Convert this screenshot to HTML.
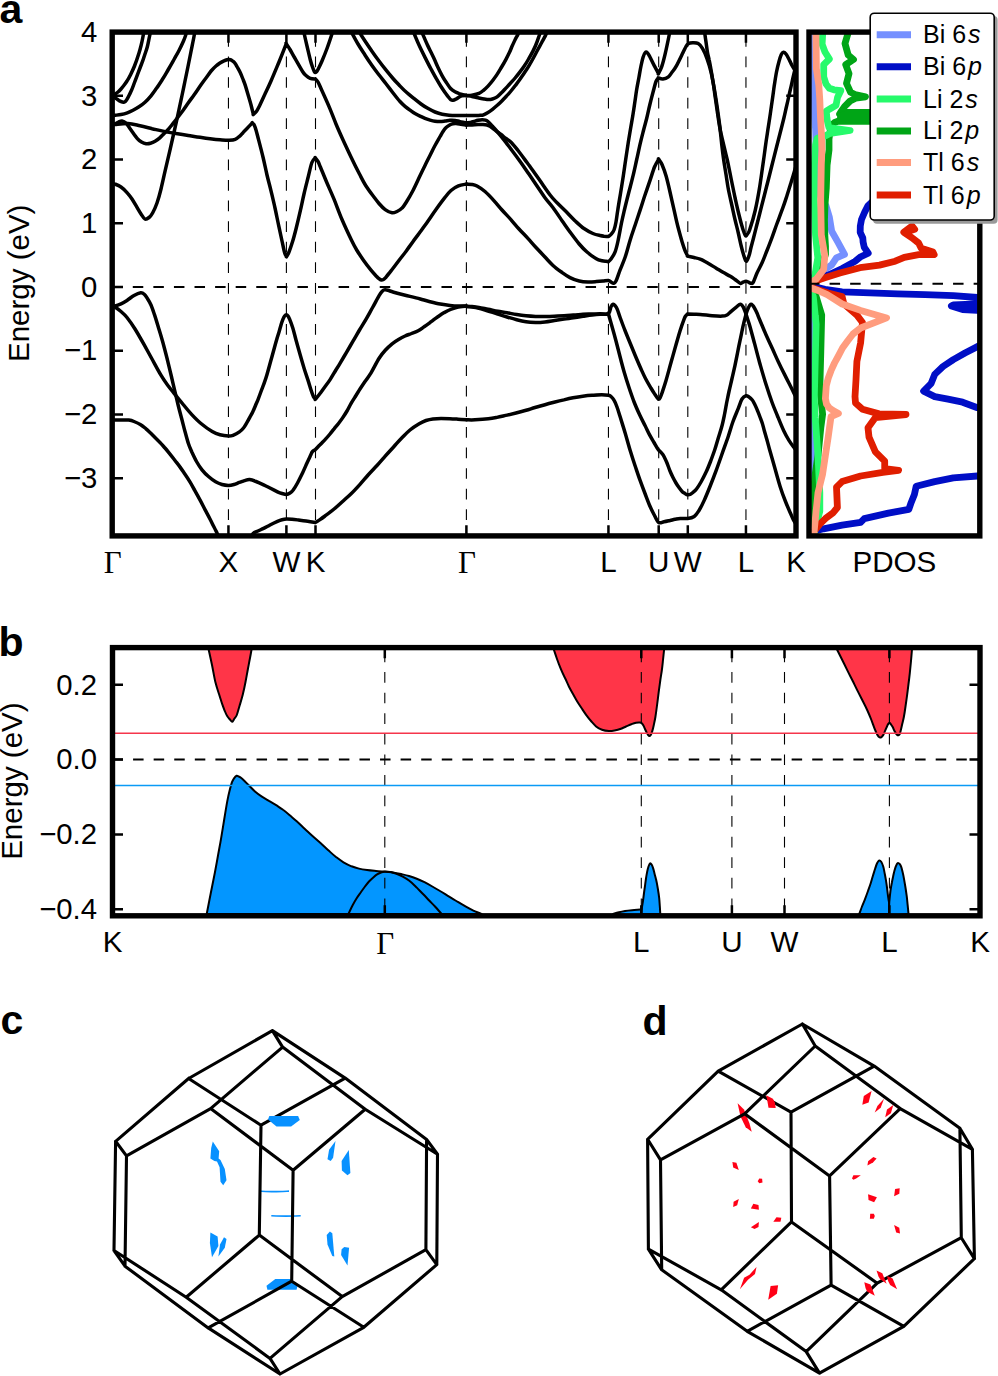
<!DOCTYPE html><html><head><meta charset="utf-8"><style>html,body{margin:0;padding:0;background:#fff;}svg{display:block;}</style></head><body>
<svg width="998" height="1376" viewBox="0 0 998 1376">
<rect width="998" height="1376" fill="#fff"/>
<defs><clipPath id="ca"><rect x="112.2" y="32.1" width="683.8" height="503.8"/></clipPath>
<clipPath id="cp"><rect x="809.0" y="32.1" width="170.8" height="503.8"/></clipPath>
<clipPath id="cb"><rect x="112.5" y="647.6" width="867.5" height="268.2"/></clipPath></defs>
<line x1="228.45" y1="32.1" x2="228.45" y2="535.9" stroke="#000" stroke-width="1.1" stroke-dasharray="10.7 9.88" stroke-dashoffset="16.7"/>
<line x1="286.40" y1="32.1" x2="286.40" y2="535.9" stroke="#000" stroke-width="1.1" stroke-dasharray="10.7 9.88" stroke-dashoffset="16.7"/>
<line x1="315.50" y1="32.1" x2="315.50" y2="535.9" stroke="#000" stroke-width="1.1" stroke-dasharray="10.7 9.88" stroke-dashoffset="16.7"/>
<line x1="466.40" y1="32.1" x2="466.40" y2="535.9" stroke="#000" stroke-width="1.1" stroke-dasharray="10.7 9.88" stroke-dashoffset="16.7"/>
<line x1="608.45" y1="32.1" x2="608.45" y2="535.9" stroke="#000" stroke-width="1.1" stroke-dasharray="10.7 9.88" stroke-dashoffset="16.7"/>
<line x1="658.70" y1="32.1" x2="658.70" y2="535.9" stroke="#000" stroke-width="1.1" stroke-dasharray="10.7 9.88" stroke-dashoffset="16.7"/>
<line x1="687.80" y1="32.1" x2="687.80" y2="535.9" stroke="#000" stroke-width="1.1" stroke-dasharray="10.7 9.88" stroke-dashoffset="16.7"/>
<line x1="745.95" y1="32.1" x2="745.95" y2="535.9" stroke="#000" stroke-width="1.1" stroke-dasharray="10.7 9.88" stroke-dashoffset="16.7"/>
<line x1="112.2" y1="287.00" x2="796.0" y2="287.00" stroke="#000" stroke-width="2" stroke-dasharray="10.5 10.08" stroke-dashoffset="0"/>
<g clip-path="url(#ca)" fill="none" stroke="#000" stroke-width="3.5" stroke-linejoin="round" stroke-linecap="round">
<path d="M112.2,95.5C112.7,95.2 114.2,94.6 115.2,94.0C116.2,93.4 117.0,92.8 118.0,92.0C119.0,91.2 120.0,90.1 121.0,89.0C122.0,87.9 123.0,86.6 124.0,85.3C125.0,84.0 126.0,82.6 127.0,81.0C128.0,79.4 128.8,78.3 130.0,75.8C131.2,73.3 133.0,69.8 134.5,66.0C136.0,62.2 137.9,56.5 139.0,53.0C140.1,49.5 140.5,47.8 141.2,45.0C141.9,42.2 142.7,38.2 143.1,36.0C143.5,33.8 143.5,32.7 143.6,32.0"/>
<path d="M112.2,95.5C112.7,95.9 114.1,97.0 115.2,97.8C116.3,98.6 117.7,99.8 119.0,100.6C120.3,101.3 122.2,102.2 123.3,102.3C124.4,102.4 124.8,101.9 125.5,101.3C126.2,100.7 126.6,99.8 127.3,98.7C128.0,97.6 128.8,96.0 129.5,94.5C130.2,93.0 131.0,91.7 131.8,89.7C132.6,87.7 133.6,84.9 134.5,82.5C135.4,80.1 136.3,77.7 137.2,75.3C138.1,72.9 139.1,70.4 140.0,68.0C140.9,65.6 141.9,63.2 142.7,60.9C143.5,58.6 144.2,56.3 145.0,54.0C145.8,51.7 146.6,49.5 147.2,47.3C147.8,45.0 148.2,42.6 148.7,40.5C149.1,38.4 149.6,36.1 149.9,34.7C150.2,33.3 150.2,32.5 150.3,32.0"/>
<path d="M112.2,115.5C112.7,115.5 113.7,115.5 115.2,115.3C116.7,115.1 119.0,114.9 121.0,114.5C123.0,114.1 125.3,113.5 127.3,112.8C129.3,112.1 131.1,111.3 133.0,110.3C134.9,109.3 137.0,108.1 139.0,106.8C141.0,105.5 143.0,104.0 145.0,102.2C147.0,100.4 149.1,98.1 151.0,95.8C152.9,93.5 154.5,91.1 156.5,88.3C158.5,85.5 160.8,81.9 162.8,78.8C164.8,75.7 166.4,72.7 168.3,69.5C170.2,66.3 172.2,62.7 174.0,59.5C175.8,56.3 177.4,53.6 179.0,50.5C180.6,47.4 182.4,43.5 183.5,41.0C184.6,38.5 185.1,37.0 185.6,35.5C186.1,34.0 186.2,32.6 186.3,32.0"/>
<path d="M112.2,183.6C112.7,183.7 113.6,183.5 115.1,184.1C116.6,184.7 119.0,185.6 121.0,187.0C123.0,188.4 125.2,190.6 127.0,192.6C128.8,194.6 130.3,196.4 132.0,199.0C133.7,201.6 135.8,205.4 137.3,207.9C138.8,210.4 139.7,212.2 141.0,214.0C142.3,215.8 143.6,218.4 144.9,219.0C146.2,219.6 147.7,218.5 149.0,217.5C150.3,216.5 151.3,215.4 152.6,213.0C153.9,210.6 155.6,207.0 157.0,203.0C158.4,199.0 159.7,194.3 161.0,189.0C162.3,183.7 163.5,178.0 165.0,171.4C166.5,164.8 168.8,155.4 170.2,149.2C171.6,143.0 172.6,138.5 173.6,134.0C174.6,129.5 175.4,126.1 176.3,122.0C177.2,117.9 178.1,113.9 179.0,109.5C179.9,105.1 181.0,100.2 182.0,95.5C183.0,90.8 184.0,85.8 185.0,81.0C186.0,76.2 187.0,71.4 188.0,66.5C189.0,61.6 190.0,56.5 191.0,51.5C192.0,46.5 193.4,39.8 194.0,36.5C194.6,33.2 194.7,32.8 194.8,32.0"/>
<path d="M112.2,124.0C112.7,124.0 114.0,124.2 115.1,123.9C116.1,123.6 117.3,122.5 118.5,122.0C119.7,121.5 120.7,120.7 122.0,120.9C123.3,121.1 124.7,121.8 126.2,123.3C127.7,124.8 129.2,127.4 131.0,129.9C132.8,132.4 135.3,136.3 137.1,138.3C138.8,140.3 140.0,141.1 141.5,142.0C143.0,142.9 144.6,143.5 146.1,143.7C147.6,143.9 149.0,143.7 150.5,143.3C152.0,142.9 153.6,142.2 155.1,141.3C156.6,140.4 158.0,139.4 159.5,138.1C161.0,136.8 162.6,135.0 164.1,133.5C165.6,132.0 167.3,130.4 168.6,129.0C169.9,127.5 170.5,126.7 172.0,124.8C173.5,122.9 175.9,119.9 177.7,117.5C179.5,115.1 181.2,112.9 183.0,110.5C184.8,108.1 186.4,105.6 188.2,103.0C190.0,100.4 191.8,98.1 194.0,95.0C196.2,91.9 199.2,87.3 201.2,84.5C203.2,81.7 204.3,80.2 206.0,78.0C207.7,75.8 209.4,73.0 211.1,71.0C212.8,69.0 214.5,67.3 216.0,66.0C217.5,64.7 218.7,63.9 220.0,63.0C221.3,62.1 222.8,61.3 224.0,60.8C225.2,60.3 226.2,60.0 227.0,59.8C227.8,59.6 228.3,59.5 229.1,59.6C229.8,59.7 230.8,59.9 231.5,60.2C232.2,60.6 232.8,61.1 233.5,61.7C234.2,62.3 234.9,63.1 235.5,64.0C236.1,64.9 236.4,65.6 237.2,67.0C238.0,68.4 239.3,70.6 240.2,72.5C241.1,74.4 241.9,76.4 242.7,78.5C243.5,80.6 244.4,82.6 245.2,85.1C246.0,87.6 246.9,90.7 247.7,93.5C248.5,96.3 249.5,99.7 250.2,102.1C250.9,104.5 251.3,106.0 251.8,108.0C252.3,110.0 253.1,113.3 253.4,114.4C253.4,114.4 252.9,114.8 253.4,114.4C253.9,114.0 255.2,113.1 256.2,111.8C257.2,110.5 257.7,109.5 259.2,106.5C260.7,103.5 263.0,98.2 265.0,94.0C267.0,89.8 268.7,86.3 271.0,81.0C273.3,75.7 276.4,68.2 279.0,62.0C281.6,55.8 285.1,46.8 286.3,43.7C286.3,43.7 285.7,42.7 286.3,43.7C286.9,44.7 288.6,47.2 290.0,49.5C291.4,51.8 292.4,53.9 294.5,57.5C296.6,61.1 300.5,68.2 302.4,71.2C304.3,74.2 304.7,74.3 306.0,75.5C307.3,76.7 308.6,77.7 310.2,78.3C311.8,78.9 314.6,78.9 315.5,79.0C315.5,79.0 315.1,78.5 315.5,79.0C315.9,79.5 316.9,80.0 318.0,82.0C319.1,84.0 320.0,86.4 322.0,90.8C324.0,95.2 327.5,102.9 329.8,108.4C332.1,113.9 333.9,118.9 336.0,124.0C338.1,129.1 340.1,133.5 342.6,139.0C345.1,144.5 348.2,151.1 351.0,157.0C353.8,162.9 357.1,169.5 359.6,174.3C362.1,179.1 363.7,182.4 366.0,186.0C368.3,189.6 371.0,193.1 373.2,196.0C375.4,198.9 377.0,201.2 379.0,203.5C381.0,205.8 383.0,208.0 385.2,209.6C387.4,211.2 390.0,212.5 392.0,212.8C394.0,213.1 395.3,212.3 397.0,211.5C398.7,210.7 400.5,209.7 402.2,207.9C403.9,206.2 405.2,203.9 407.0,201.0C408.8,198.1 410.8,194.7 413.0,190.5C415.2,186.3 418.0,180.0 420.0,175.8C422.0,171.6 423.3,168.9 425.0,165.5C426.7,162.1 428.4,158.5 430.1,155.2C431.8,151.9 433.3,148.6 435.0,145.5C436.7,142.4 438.8,138.8 440.1,136.5C441.4,134.2 442.0,133.0 443.0,131.5C444.0,130.0 444.9,128.6 446.1,127.5C447.3,126.4 449.0,125.3 450.1,124.7C451.2,124.1 452.0,123.9 453.0,123.7C454.0,123.5 454.8,123.4 456.1,123.5C457.4,123.6 459.3,124.0 461.0,124.3C462.7,124.5 465.5,124.9 466.4,125.0"/>
<path d="M112.2,124.5C112.7,124.5 112.5,124.7 115.1,124.5C117.7,124.3 123.8,123.4 128.0,123.6C132.2,123.8 136.0,124.9 140.0,125.7C144.0,126.5 148.1,127.7 152.1,128.7C156.1,129.6 160.1,130.6 164.1,131.4C168.1,132.2 172.0,132.8 176.0,133.5C180.0,134.2 184.2,134.9 188.2,135.5C192.2,136.1 196.3,136.8 200.0,137.3C203.7,137.9 206.8,138.4 210.1,138.8C213.4,139.2 216.8,139.6 220.0,139.8C223.2,140.0 226.6,140.3 229.1,140.2C231.6,140.1 233.5,140.0 235.2,139.3C236.9,138.7 238.2,137.5 239.5,136.3C240.8,135.2 241.9,133.7 243.2,132.4C244.4,131.1 245.8,129.7 247.0,128.5C248.2,127.3 249.3,126.2 250.2,125.2C251.1,124.2 252.0,123.2 252.3,122.8C252.3,122.8 252.0,122.4 252.3,122.8C252.6,123.2 253.6,123.8 254.2,125.0C254.8,126.2 255.4,127.9 256.0,130.0C256.6,132.1 256.8,132.9 258.0,137.5C259.2,142.1 261.6,151.2 263.1,157.5C264.6,163.8 265.7,169.4 267.0,175.0C268.3,180.6 269.7,185.3 271.0,190.8C272.3,196.3 273.7,202.1 275.0,208.0C276.3,213.9 277.6,220.6 278.8,226.1C280.0,231.6 281.0,236.5 282.0,241.0C283.0,245.5 283.9,250.4 284.7,253.0C285.5,255.6 286.3,255.9 286.6,256.5C286.6,256.5 286.2,257.2 286.6,256.5C287.0,255.8 288.0,254.4 289.0,252.0C290.0,249.6 291.3,245.6 292.5,241.8C293.7,238.0 294.7,234.2 296.0,229.0C297.3,223.8 299.1,216.2 300.4,210.4C301.7,204.6 302.7,199.6 304.0,194.0C305.3,188.4 306.9,182.2 308.2,177.0C309.5,171.8 310.7,165.7 311.9,162.5C313.1,159.3 314.7,158.6 315.3,157.8C315.3,157.8 314.9,157.2 315.3,157.8C315.8,158.4 317.1,160.0 318.0,161.5C318.9,163.0 318.9,163.4 320.4,167.0C321.9,170.6 324.7,177.6 327.0,183.0C329.3,188.4 331.6,193.3 334.1,199.4C336.6,205.5 339.1,212.7 342.0,219.5C344.9,226.3 348.9,234.8 351.4,240.0C353.9,245.2 354.9,247.0 357.0,250.5C359.1,254.0 361.7,257.7 364.0,261.0C366.3,264.3 368.9,267.6 371.0,270.2C373.1,272.8 375.3,275.0 376.7,276.5C378.1,278.0 378.7,278.4 379.5,279.0C380.3,279.6 380.9,279.9 381.6,280.0C382.3,280.1 382.9,279.8 383.5,279.5C384.1,279.2 384.3,279.1 385.1,278.2C385.9,277.3 387.3,275.4 388.5,274.0C389.7,272.6 390.3,271.8 392.1,269.5C393.9,267.2 396.8,263.4 399.1,260.3C401.4,257.2 403.8,254.3 406.1,251.2C408.4,248.0 411.0,244.3 413.1,241.4C415.2,238.5 416.6,236.8 419.0,233.5C421.4,230.2 424.9,225.5 427.7,221.5C430.5,217.5 433.1,213.5 436.0,209.5C438.9,205.5 442.3,200.9 444.8,197.7C447.3,194.5 448.7,192.5 451.0,190.5C453.3,188.5 455.8,186.9 458.4,185.8C461.0,184.7 465.1,184.4 466.4,184.1"/>
<path d="M303.8,32.0C304.3,34.3 305.9,41.4 307.0,46.0C308.1,50.6 309.3,56.0 310.2,59.5C311.1,63.0 311.8,65.0 312.5,67.0C313.2,69.0 313.7,70.4 314.2,71.3C314.7,72.2 315.0,72.5 315.4,72.6C315.8,72.6 316.3,72.3 316.8,71.6C317.3,70.9 317.6,70.3 318.5,68.5C319.4,66.7 320.6,64.3 322.0,61.0C323.4,57.7 325.2,53.3 327.0,48.5C328.8,43.7 331.7,34.8 332.6,32.0"/>
<path d="M351.4,32.0C352.5,34.0 355.7,40.1 358.0,44.0C360.3,47.9 362.8,51.6 365.1,55.2C367.4,58.8 369.7,62.2 372.0,65.5C374.3,68.8 376.8,72.0 379.1,75.0C381.4,78.0 383.7,80.8 386.0,83.8C388.3,86.8 390.8,90.0 393.1,93.0C395.4,96.0 398.0,99.3 400.0,101.5C402.0,103.7 403.3,104.9 405.0,106.3C406.7,107.7 408.3,108.9 410.0,110.1C411.7,111.3 413.3,112.5 415.0,113.5C416.7,114.5 418.3,115.3 420.0,116.1C421.7,116.9 423.3,117.7 425.0,118.4C426.7,119.1 428.4,119.6 430.1,120.1C431.8,120.6 433.3,121.0 435.0,121.2C436.7,121.5 438.4,121.6 440.1,121.6C441.8,121.6 443.4,121.3 445.0,121.1C446.6,120.9 448.3,120.4 450.0,120.3C451.7,120.2 453.3,120.2 455.0,120.4C456.7,120.6 458.1,121.2 460.0,121.6C461.9,122.0 465.3,122.8 466.4,123.0"/>
<path d="M359.3,32.0C360.2,33.5 362.9,37.8 365.0,41.0C367.1,44.2 369.8,48.1 372.1,51.4C374.4,54.7 376.7,57.9 379.0,61.0C381.3,64.1 383.8,67.3 386.1,70.2C388.4,73.1 390.7,75.8 393.0,78.5C395.3,81.2 397.8,83.7 400.1,86.1C402.4,88.5 404.6,90.7 407.0,92.8C409.4,94.9 411.9,96.8 414.2,98.7C416.5,100.6 418.7,102.3 421.0,104.0C423.3,105.7 425.9,107.3 428.2,108.6C430.5,109.9 432.7,111.1 435.0,112.0C437.3,112.9 439.9,113.7 442.2,114.2C444.5,114.7 446.7,115.0 449.0,115.2C451.3,115.4 453.3,115.5 456.2,115.6C459.1,115.6 464.7,115.5 466.4,115.5"/>
<path d="M413.5,32.0C414.4,34.2 417.0,40.6 419.0,45.0C421.0,49.4 423.4,54.1 425.4,58.1C427.4,62.1 429.1,65.5 431.0,69.0C432.9,72.5 434.9,76.2 436.6,79.1C438.3,82.0 439.6,84.3 441.0,86.5C442.4,88.7 443.8,90.8 445.0,92.5C446.2,94.2 447.1,95.3 448.0,96.5C448.9,97.7 449.8,99.0 450.6,99.6C451.4,100.2 452.1,100.4 453.0,100.3C453.9,100.2 455.2,99.5 456.2,99.0C457.2,98.5 458.1,97.7 459.0,97.2C459.9,96.7 460.7,96.1 461.9,95.8C463.1,95.5 465.6,95.5 466.4,95.5"/>
<path d="M421.8,32.0C422.7,34.0 425.0,39.6 427.0,44.0C429.0,48.4 432.0,54.2 433.8,58.1C435.6,62.0 436.6,64.5 438.0,67.5C439.4,70.5 440.9,73.4 442.2,75.8C443.5,78.2 444.6,79.9 446.0,82.0C447.4,84.1 449.1,86.9 450.6,88.5C452.1,90.1 453.6,91.0 455.0,91.8C456.4,92.6 457.9,93.1 459.1,93.6C460.3,94.0 460.8,94.2 462.0,94.5C463.2,94.8 465.7,95.3 466.4,95.5"/>
<path d="M466.4,95.5C467.3,95.4 469.9,95.5 472.0,95.1C474.1,94.7 477.1,94.1 479.0,93.3C480.9,92.5 482.0,91.5 483.5,90.3C485.0,89.1 486.5,87.7 488.0,86.1C489.5,84.5 491.0,82.8 492.5,80.8C494.0,78.8 495.6,76.7 497.1,74.4C498.6,72.1 500.1,69.5 501.6,67.0C503.1,64.5 504.8,61.6 506.1,59.1C507.4,56.6 508.4,54.6 509.5,52.3C510.6,50.0 511.4,47.6 512.4,45.5C513.4,43.4 514.3,41.3 515.2,39.5C516.1,37.7 517.2,36.0 517.8,34.7C518.4,33.5 518.6,32.5 518.8,32.0"/>
<path d="M466.4,95.5C467.3,95.7 470.1,96.1 472.0,96.5C473.9,96.9 476.0,97.4 478.0,97.8C480.0,98.2 482.2,98.7 484.0,99.0C485.8,99.3 487.5,99.6 489.0,99.6C490.5,99.6 491.6,99.2 493.0,98.8C494.4,98.3 495.7,97.9 497.1,96.9C498.5,95.9 500.0,94.3 501.5,92.8C503.0,91.3 504.6,89.5 506.1,87.9C507.6,86.3 509.0,84.9 510.5,83.2C512.0,81.5 513.6,79.8 515.1,78.0C516.6,76.2 518.1,74.4 519.6,72.4C521.1,70.5 522.6,68.5 524.1,66.3C525.6,64.1 527.1,61.6 528.6,59.0C530.1,56.4 531.8,53.5 533.1,50.9C534.4,48.3 535.4,46.1 536.4,43.5C537.4,40.9 538.7,36.9 539.4,35.0C540.1,33.1 540.3,32.5 540.5,32.0"/>
<path d="M466.4,115.5C467.3,115.5 470.2,115.6 472.0,115.6C473.8,115.6 475.6,115.5 477.0,115.5C478.4,115.5 479.4,115.4 480.5,115.3C481.6,115.2 482.2,115.3 483.5,114.8C484.8,114.3 486.5,113.4 488.0,112.5C489.5,111.6 491.0,110.5 492.5,109.3C494.0,108.1 495.5,106.8 497.0,105.5C498.5,104.2 500.1,102.7 501.6,101.2C503.1,99.7 504.6,98.1 506.1,96.5C507.6,94.9 509.1,93.3 510.6,91.5C512.1,89.7 513.6,87.8 515.1,85.8C516.6,83.8 518.1,81.9 519.6,79.8C521.1,77.7 522.6,75.5 524.1,73.3C525.6,71.0 527.1,68.8 528.6,66.3C530.1,63.8 531.6,61.2 533.1,58.5C534.6,55.8 536.2,52.7 537.6,50.0C539.0,47.3 540.4,45.0 541.7,42.5C543.1,40.0 544.9,36.8 545.7,35.0C546.6,33.2 546.6,32.5 546.8,32.0"/>
<path d="M466.4,123.0C467.0,122.9 468.7,122.8 470.0,122.6C471.3,122.3 472.7,121.9 474.0,121.5C475.3,121.1 476.6,120.6 478.0,120.3C479.4,120.0 480.9,119.7 482.2,119.7C483.4,119.7 484.4,119.8 485.5,120.2C486.6,120.6 487.4,121.1 488.5,122.0C489.6,122.9 490.4,124.0 492.0,125.8C493.6,127.5 495.7,129.8 498.0,132.5C500.3,135.2 503.4,139.1 505.7,142.1C508.0,145.1 509.5,147.2 512.0,150.5C514.5,153.8 517.7,158.1 520.5,162.0C523.3,165.9 526.1,170.1 528.9,174.1C531.6,178.1 534.3,182.1 537.0,186.0C539.7,189.9 542.4,194.2 545.0,197.8C547.6,201.4 550.0,203.6 552.9,207.5C555.8,211.4 559.4,216.9 562.2,221.0C565.1,225.1 567.2,228.2 570.0,232.0C572.8,235.8 576.4,240.7 579.2,244.0C582.0,247.3 584.1,249.5 587.0,252.0C589.9,254.5 593.8,257.3 596.3,258.8C598.8,260.3 600.4,260.4 602.0,260.8C603.6,261.2 604.9,261.2 606.0,261.3C607.1,261.4 608.1,261.6 608.5,261.6C608.5,261.6 608.1,262.0 608.5,261.6C608.9,261.2 609.9,260.6 611.0,259.0C612.1,257.4 613.8,255.2 615.0,252.2C616.2,249.2 616.9,246.1 618.0,241.0C619.1,235.9 620.7,226.7 621.8,221.5C622.9,216.3 623.3,214.7 624.4,210.0C625.5,205.3 627.1,199.0 628.5,193.5C629.9,188.0 631.4,182.8 632.7,177.2C634.1,171.6 635.3,165.8 636.6,160.0C637.9,154.2 639.3,147.3 640.5,142.3C641.7,137.3 642.6,133.9 643.6,130.0C644.6,126.1 645.5,123.1 646.6,118.8C647.7,114.5 648.8,108.8 650.0,104.0C651.2,99.2 652.6,93.8 653.6,90.0C654.6,86.2 655.2,83.5 656.0,81.5C656.8,79.5 658.1,78.5 658.5,77.9C658.5,77.9 657.8,77.7 658.5,77.9C659.2,78.1 661.2,79.2 662.9,79.0C664.5,78.8 666.9,77.9 668.4,76.8C669.9,75.7 670.7,74.0 672.0,72.3C673.3,70.6 674.3,69.6 676.1,66.4C677.9,63.2 681.1,56.4 682.7,53.1C684.4,49.8 685.1,48.1 686.0,46.5C686.9,44.9 687.2,44.2 688.3,43.6C689.4,43.0 691.1,42.8 692.7,42.8C694.4,42.8 696.6,42.6 698.2,43.6C699.9,44.6 701.1,46.2 702.6,48.7C704.1,51.2 705.6,54.8 707.0,58.7C708.4,62.6 709.9,67.5 711.0,72.0C712.1,76.5 713.0,81.7 713.8,86.0C714.6,90.3 715.1,93.5 715.8,98.0C716.5,102.5 717.3,108.0 718.0,113.0C718.7,118.0 719.4,122.7 720.0,128.0C720.6,133.3 721.2,139.7 721.8,145.0C722.4,150.3 723.0,155.0 723.7,160.0C724.4,165.0 725.3,170.0 726.1,175.0C726.9,180.0 727.5,185.0 728.5,190.0C729.5,195.0 730.7,200.1 731.8,205.0C732.9,209.9 733.9,214.8 735.0,219.5C736.1,224.2 737.3,228.6 738.3,233.0C739.3,237.4 740.3,242.4 741.2,246.0C742.1,249.6 742.7,252.0 743.5,254.5C744.3,257.0 745.2,260.1 745.9,260.9C746.6,261.7 746.9,260.5 747.5,259.5C748.1,258.5 748.7,256.7 749.3,254.7C749.9,252.7 750.4,249.9 751.0,247.5C751.6,245.1 752.1,243.4 753.0,240.0C753.9,236.6 755.1,231.7 756.3,227.0C757.5,222.3 758.8,217.1 760.1,212.0C761.4,206.9 762.7,201.9 764.0,196.7C765.3,191.5 766.7,186.1 768.0,181.0C769.3,175.9 770.3,171.8 771.7,166.3C773.1,160.8 774.9,153.5 776.3,148.0C777.7,142.5 778.7,138.5 780.0,133.5C781.3,128.5 782.8,122.5 783.9,118.0C785.0,113.5 785.6,110.2 786.5,106.5C787.4,102.8 788.2,99.2 789.0,95.5C789.8,91.8 790.7,88.2 791.5,84.5C792.3,80.8 793.2,76.8 794.0,73.5C794.8,70.2 795.7,66.4 796.0,65.0"/>
<path d="M466.4,125.0C467.3,125.0 470.1,125.0 472.0,124.9C473.9,124.8 476.2,124.7 478.0,124.6C479.8,124.5 481.5,124.4 483.0,124.5C484.5,124.6 485.8,124.7 487.0,125.0C488.2,125.3 489.0,125.7 490.0,126.3C491.0,126.9 492.0,127.8 493.0,128.5C494.0,129.2 494.7,129.8 496.0,130.8C497.3,131.8 499.3,133.2 501.0,134.5C502.7,135.8 504.3,137.2 506.0,138.5C507.7,139.8 509.3,140.5 511.3,142.5C513.3,144.5 515.4,147.2 518.0,150.5C520.6,153.8 524.1,158.6 527.0,162.5C529.9,166.4 532.6,170.3 535.3,174.1C538.0,177.8 540.5,181.4 543.0,185.0C545.5,188.6 548.4,192.8 550.5,195.5C552.6,198.2 553.0,198.6 555.4,201.1C557.8,203.6 561.6,207.1 565.0,210.5C568.4,213.9 572.6,218.5 575.8,221.5C579.0,224.5 581.1,226.5 584.0,228.5C586.9,230.5 590.2,232.3 592.9,233.5C595.6,234.7 598.1,235.1 600.0,235.5C601.9,235.9 602.6,236.0 604.0,236.2C605.4,236.3 607.7,236.4 608.5,236.4C608.5,236.4 608.0,236.7 608.5,236.4C608.9,236.1 610.1,235.6 611.0,234.5C611.9,233.4 613.2,232.1 614.0,230.0C614.8,227.9 615.4,225.3 616.0,222.0C616.6,218.7 617.0,214.8 617.8,210.0C618.5,205.2 619.6,199.0 620.5,193.5C621.4,188.0 622.2,182.9 623.1,177.2C624.0,171.5 624.8,165.3 625.7,159.5C626.6,153.7 627.5,147.4 628.3,142.3C629.1,137.2 629.8,133.3 630.5,129.0C631.2,124.7 632.0,120.5 632.7,116.2C633.4,111.9 634.1,107.4 634.7,103.0C635.4,98.6 635.9,94.3 636.6,90.0C637.3,85.7 638.3,81.0 639.0,77.0C639.7,73.0 640.3,69.2 641.0,66.0C641.7,62.8 642.3,59.8 643.0,57.5C643.7,55.2 644.5,53.2 645.3,52.5C646.0,51.8 646.8,52.3 647.5,53.0C648.2,53.7 648.6,54.5 649.7,56.5C650.8,58.5 652.6,62.5 654.1,65.3C655.6,68.1 657.8,72.1 658.5,73.5C658.5,73.5 658.0,74.7 658.5,73.5C659.0,72.3 660.7,69.6 661.8,66.4C662.9,63.2 663.8,59.8 665.1,54.2C666.4,48.6 668.9,36.5 669.6,33.0"/>
<path d="M704.6,32.0C704.8,33.7 705.5,38.6 706.0,42.0C706.5,45.4 707.0,49.5 707.5,52.5C708.0,55.5 708.6,56.9 709.2,60.1C709.9,63.4 710.7,67.8 711.4,72.0C712.1,76.2 712.8,80.5 713.5,85.0C714.2,89.5 714.8,94.3 715.5,99.0C716.2,103.7 716.8,108.2 717.5,113.0C718.2,117.8 719.0,123.1 719.8,127.6C720.6,132.1 721.6,136.2 722.5,140.0C723.4,143.8 724.2,147.2 725.0,150.5C725.8,153.8 726.5,156.4 727.3,160.0C728.1,163.6 728.9,167.8 729.8,172.0C730.6,176.2 731.5,180.8 732.4,185.0C733.3,189.2 734.0,193.0 735.0,197.5C736.0,202.0 737.2,207.5 738.3,212.0C739.4,216.5 740.6,221.3 741.5,224.5C742.4,227.7 742.9,229.3 743.5,231.0C744.1,232.7 744.6,234.0 745.0,234.8C745.4,235.6 745.5,236.1 745.9,236.0C746.3,235.9 746.7,235.2 747.3,234.2C747.9,233.2 748.4,233.8 749.7,229.8C751.0,225.9 753.6,217.5 755.2,210.5C756.8,203.5 758.2,195.8 759.5,188.0C760.8,180.2 762.0,170.7 763.0,164.0C764.0,157.3 764.5,153.2 765.2,148.0C765.9,142.8 766.6,138.0 767.4,133.0C768.1,128.0 768.9,123.2 769.7,118.0C770.5,112.8 771.2,107.3 772.0,102.0C772.8,96.7 773.5,91.0 774.2,86.0C775.0,81.0 775.7,76.1 776.5,72.0C777.3,67.9 778.2,64.4 779.0,61.5C779.8,58.6 780.6,56.0 781.3,54.5C782.0,53.0 782.6,52.3 783.4,52.2C784.2,52.1 785.0,52.7 786.0,54.0C787.0,55.3 788.4,58.2 789.4,60.1C790.4,62.0 790.9,63.5 792.0,65.5C793.1,67.5 795.3,70.9 796.0,72.0"/>
<path d="M466.4,184.1C467.3,184.2 470.2,184.1 472.0,184.4C473.8,184.7 474.8,184.8 477.0,186.0C479.2,187.2 482.1,189.0 485.0,191.5C487.9,194.0 491.3,197.7 494.1,200.8C496.9,203.9 499.2,206.8 502.0,210.0C504.8,213.2 508.3,216.6 511.1,219.8C513.9,223.0 516.2,225.9 519.0,229.0C521.8,232.1 525.3,235.5 528.1,238.6C530.9,241.7 533.1,244.4 536.0,247.5C538.9,250.6 542.4,254.3 545.2,257.3C548.0,260.3 550.2,262.9 553.0,265.5C555.8,268.1 559.4,270.6 562.2,272.6C565.0,274.6 567.2,276.2 570.0,277.6C572.8,279.0 576.2,280.3 579.2,281.0C582.2,281.7 585.1,281.9 588.0,282.0C590.9,282.1 593.8,281.8 596.3,281.6C598.8,281.4 601.0,281.2 603.0,281.0C605.0,280.8 607.1,280.3 608.5,280.5C609.8,280.7 610.1,281.5 611.0,282.0C611.9,282.5 612.8,283.5 613.6,283.3C614.4,283.1 614.9,283.2 616.0,281.0C617.1,278.8 618.5,274.2 620.0,270.2C621.5,266.2 623.5,262.0 625.2,257.0C626.9,252.0 628.5,245.4 630.1,240.2C631.7,234.9 633.3,230.5 635.0,225.5C636.7,220.5 638.4,215.2 640.1,210.1C641.8,205.0 643.3,200.0 645.0,195.0C646.7,190.0 648.5,184.8 650.1,180.1C651.7,175.4 653.1,170.5 654.5,167.0C655.9,163.5 658.0,160.5 658.7,159.2C658.7,159.2 658.2,158.3 658.7,159.2C659.2,160.1 660.8,161.7 662.0,164.5C663.2,167.3 664.8,171.5 666.1,176.1C667.4,180.7 668.7,186.3 670.0,192.0C671.3,197.7 672.8,204.3 674.1,210.1C675.4,215.9 676.6,221.7 678.0,227.0C679.4,232.3 681.0,238.3 682.2,242.2C683.4,246.1 684.1,248.2 685.0,250.5C685.9,252.8 687.3,255.2 687.8,256.2C687.8,256.2 686.8,256.0 687.8,256.2C688.8,256.4 691.9,257.0 694.0,257.5C696.1,258.0 697.9,258.2 700.2,259.2C702.5,260.1 705.3,261.7 708.0,263.2C710.7,264.7 713.7,266.7 716.2,268.2C718.7,269.7 720.6,270.9 723.0,272.3C725.4,273.7 728.3,275.1 730.3,276.3C732.3,277.5 733.3,278.3 735.0,279.5C736.7,280.7 739.0,282.9 740.3,283.3C741.6,283.8 742.1,282.6 743.0,282.2C743.9,281.8 745.0,281.2 746.0,281.2C746.9,281.2 747.6,281.8 748.5,282.2C749.4,282.6 750.5,283.3 751.3,283.3C752.1,283.3 752.2,284.0 753.2,282.3C754.2,280.6 755.5,276.3 757.0,273.0C758.5,269.7 760.5,266.2 762.2,262.5C763.9,258.8 765.4,254.6 767.0,250.5C768.6,246.4 770.1,242.6 771.8,238.1C773.5,233.6 775.1,228.6 777.0,223.5C778.9,218.4 781.2,212.4 782.9,207.7C784.6,203.0 785.6,199.8 787.0,195.5C788.4,191.2 789.7,186.9 791.2,182.0C792.7,177.1 795.2,168.7 796.0,166.0"/>
<path d="M112.2,306.4C112.7,306.3 113.6,306.4 115.1,306.0C116.6,305.6 119.0,304.7 121.0,303.8C123.0,302.9 124.8,301.8 127.0,300.4C129.2,299.0 131.7,296.8 134.0,295.5C136.3,294.2 138.9,293.0 140.7,292.8C142.4,292.6 143.4,293.5 144.5,294.5C145.6,295.5 146.4,296.9 147.5,298.7C148.6,300.4 149.9,302.4 151.0,305.0C152.1,307.6 153.1,310.6 154.3,314.1C155.5,317.6 156.9,322.3 158.0,326.0C159.1,329.7 160.0,332.4 161.1,336.2C162.2,339.9 163.4,344.2 164.5,348.5C165.6,352.8 166.8,357.2 167.9,361.8C169.0,366.4 170.2,371.2 171.3,376.0C172.4,380.8 173.6,385.9 174.7,390.7C175.8,395.4 176.9,399.9 178.0,404.5C179.1,409.1 180.3,413.5 181.5,418.0C182.7,422.5 183.8,427.2 185.0,431.5C186.2,435.8 187.3,440.1 188.4,443.5C189.5,446.9 190.5,449.0 191.8,452.0C193.2,455.0 194.8,458.5 196.5,461.5C198.2,464.5 200.0,467.3 202.0,469.8C204.0,472.3 206.2,474.5 208.5,476.5C210.8,478.5 213.3,480.5 215.6,481.8C217.8,483.1 219.9,483.9 222.0,484.5C224.1,485.1 226.4,485.4 228.4,485.4C230.4,485.4 232.2,485.0 234.0,484.5C235.8,484.0 237.7,483.0 239.4,482.4C241.2,481.8 242.8,481.1 244.5,480.6C246.2,480.1 247.7,479.5 249.6,479.6C251.5,479.8 253.7,480.6 256.0,481.5C258.3,482.4 261.2,483.7 263.6,484.8C266.0,485.9 268.2,487.1 270.5,488.3C272.8,489.5 275.6,490.9 277.5,491.8C279.4,492.7 280.5,493.1 282.0,493.5C283.5,493.9 285.1,494.5 286.4,494.4C287.7,494.3 288.9,493.7 290.0,493.0C291.1,492.3 291.9,491.7 293.2,490.0C294.4,488.3 296.1,485.6 297.5,483.0C298.9,480.4 300.3,477.6 301.9,474.3C303.5,471.0 305.6,466.1 307.0,463.0C308.4,459.9 309.6,457.4 310.5,455.5C311.4,453.6 311.6,452.7 312.4,451.7C313.2,450.7 314.9,450.0 315.4,449.6C315.4,449.6 314.6,450.4 315.4,449.6C316.2,448.8 318.3,446.4 320.0,444.7C321.7,442.9 323.8,440.9 325.5,439.1C327.2,437.3 328.6,435.7 330.0,434.0C331.4,432.3 332.7,430.6 334.1,428.9C335.5,427.1 337.1,425.3 338.5,423.5C339.9,421.7 341.2,420.0 342.6,417.9C344.0,415.8 345.6,413.4 347.0,411.0C348.4,408.6 349.6,406.0 351.1,403.4C352.6,400.8 354.5,397.9 356.0,395.5C357.5,393.1 358.5,391.3 360.0,389.0C361.5,386.7 363.3,384.0 365.0,381.5C366.7,379.0 367.8,378.1 370.2,374.2C372.6,370.3 376.6,362.2 379.1,358.2C381.7,354.2 383.3,352.4 385.5,350.0C387.7,347.6 389.9,345.6 392.1,343.8C394.3,342.1 396.3,340.8 398.5,339.5C400.7,338.2 402.9,337.0 405.1,336.0C407.3,335.0 409.3,334.4 411.5,333.5C413.7,332.6 416.0,332.0 418.2,330.8C420.4,329.6 422.3,328.0 424.5,326.5C426.7,325.0 429.0,323.3 431.2,321.7C433.4,320.1 435.3,318.5 437.5,317.0C439.7,315.5 442.0,313.9 444.2,312.6C446.4,311.4 448.3,310.4 450.5,309.5C452.7,308.6 454.6,308.0 457.2,307.4C459.8,306.8 464.9,306.3 466.4,306.1"/>
<path d="M112.2,306.8C112.7,306.9 113.6,306.5 115.1,307.3C116.6,308.1 119.0,309.8 121.0,311.5C123.0,313.2 124.7,314.6 127.0,317.5C129.3,320.4 132.2,324.5 135.0,329.0C137.8,333.5 141.3,339.7 144.1,344.7C146.9,349.7 149.2,353.9 152.0,359.0C154.8,364.1 158.5,371.1 161.1,375.4C163.7,379.7 165.2,381.9 167.5,385.0C169.8,388.1 172.3,391.1 174.7,394.1C177.1,397.1 179.2,399.6 182.0,403.0C184.8,406.4 188.6,411.2 191.8,414.6C195.0,418.0 197.6,420.7 201.0,423.5C204.4,426.3 209.0,429.7 212.2,431.6C215.4,433.5 217.3,434.1 220.0,434.8C222.7,435.5 226.2,435.9 228.4,436.0C230.6,436.1 231.2,436.0 233.0,435.3C234.8,434.6 237.7,433.1 239.4,431.9C241.2,430.7 242.2,429.6 243.5,428.0C244.8,426.4 245.9,424.2 247.0,422.4C248.1,420.6 249.1,418.7 250.0,417.0C250.9,415.3 251.8,413.9 252.7,412.0C253.6,410.1 254.6,407.7 255.5,405.5C256.4,403.3 257.4,401.1 258.3,398.8C259.2,396.5 260.1,394.0 261.0,391.5C261.9,389.0 263.0,386.5 264.0,383.7C265.0,380.9 266.1,377.6 267.0,374.5C267.9,371.4 268.9,367.8 269.7,364.8C270.5,361.8 271.2,359.3 272.0,356.5C272.8,353.7 273.6,350.8 274.4,347.8C275.2,344.8 276.2,341.2 277.0,338.5C277.8,335.8 278.4,333.9 279.1,331.7C279.8,329.4 280.4,327.1 281.0,325.0C281.6,322.9 282.3,320.9 282.9,319.4C283.5,317.9 284.0,316.8 284.6,316.0C285.2,315.2 285.8,314.8 286.4,314.8C287.0,314.8 287.5,315.3 288.0,316.0C288.5,316.7 288.8,317.2 289.6,319.2C290.4,321.2 291.7,324.5 292.8,328.0C293.9,331.5 294.8,335.6 296.0,340.0C297.2,344.4 298.7,349.7 300.0,354.3C301.3,358.9 302.7,363.6 304.0,367.9C305.3,372.2 306.7,376.2 307.9,379.9C309.1,383.6 310.2,387.5 311.1,390.3C312.0,393.1 312.8,395.2 313.5,396.7C314.2,398.2 315.2,398.7 315.5,399.1C315.5,399.1 314.8,400.0 315.5,399.1C316.2,398.2 318.5,395.5 320.0,393.5C321.5,391.5 322.9,389.5 324.6,387.2C326.3,384.9 328.4,382.2 330.1,379.6C331.8,377.0 333.4,374.2 335.0,371.5C336.6,368.8 338.1,366.6 340.0,363.4C341.9,360.2 344.3,356.0 346.5,352.3C348.7,348.6 350.8,344.9 353.0,341.2C355.2,337.5 357.3,333.7 359.5,330.0C361.7,326.3 363.9,322.9 366.1,319.1C368.3,315.4 370.4,311.4 372.6,307.5C374.8,303.6 377.5,298.3 379.1,295.6C380.7,292.9 381.1,292.4 382.0,291.5C382.9,290.6 383.3,290.1 384.3,289.9C385.3,289.7 386.6,289.9 388.0,290.3C389.4,290.7 390.9,291.4 393.0,292.0C395.1,292.6 397.5,293.3 400.3,294.0C403.1,294.7 406.7,295.6 410.0,296.4C413.3,297.2 417.0,298.1 420.3,299.0C423.6,299.9 426.7,300.9 430.0,301.7C433.3,302.5 437.0,303.4 440.3,304.0C443.6,304.6 447.0,305.1 450.0,305.4C453.0,305.7 455.7,305.9 458.4,306.0C461.1,306.1 465.1,306.1 466.4,306.1"/>
<path d="M112.2,420.1C112.7,420.1 113.5,420.1 115.1,420.1C116.7,420.1 119.7,420.0 122.0,420.0C124.3,420.0 126.7,419.9 128.7,420.1C130.7,420.4 132.0,420.7 134.0,421.5C136.0,422.3 138.7,423.5 140.7,424.7C142.7,425.9 144.4,427.5 146.0,428.8C147.6,430.1 148.5,431.1 150.0,432.5C151.5,433.9 153.3,435.8 155.0,437.5C156.7,439.2 158.3,440.8 160.0,442.5C161.7,444.2 163.3,446.1 165.0,448.0C166.7,449.9 168.3,452.0 170.0,454.1C171.7,456.2 173.3,458.3 175.0,460.5C176.7,462.7 178.4,464.8 180.1,467.1C181.8,469.4 183.3,471.8 185.0,474.3C186.7,476.8 188.4,479.4 190.1,482.1C191.8,484.9 193.3,487.8 195.0,490.8C196.7,493.8 198.4,497.1 200.1,500.2C201.8,503.3 203.3,506.4 205.0,509.6C206.7,512.8 208.6,516.3 210.1,519.2C211.6,522.1 212.8,524.7 214.0,527.0C215.2,529.3 216.2,531.4 217.1,533.2C218.0,535.0 219.1,537.2 219.5,538.0"/>
<path d="M250.0,539.0C250.5,538.1 251.8,534.9 253.1,533.6C254.4,532.3 256.2,531.9 258.0,531.0C259.8,530.1 261.6,529.4 263.6,528.4C265.6,527.4 267.7,526.2 270.0,525.0C272.3,523.8 275.5,522.3 277.5,521.4C279.5,520.5 280.5,520.1 282.0,519.7C283.5,519.3 284.7,519.0 286.4,518.9C288.1,518.8 290.0,519.0 292.0,519.2C294.0,519.4 296.2,519.7 298.5,520.0C300.8,520.3 303.2,520.6 306.0,521.0C308.8,521.4 313.9,522.2 315.5,522.4C315.5,522.4 314.8,522.9 315.5,522.4C316.2,521.9 318.4,520.7 320.0,519.6C321.6,518.5 322.6,517.8 325.0,516.0C327.4,514.2 331.3,511.3 334.1,509.0C336.9,506.7 339.2,504.6 342.0,502.0C344.8,499.4 348.1,496.6 351.1,493.7C354.1,490.8 357.2,487.4 360.0,484.3C362.8,481.2 365.3,478.1 368.1,475.0C370.9,471.9 374.1,468.6 377.0,465.5C379.9,462.4 382.4,459.4 385.2,456.2C388.0,453.0 391.2,449.6 394.0,446.5C396.8,443.4 399.5,440.2 402.2,437.5C404.9,434.8 407.2,432.3 410.0,430.0C412.8,427.7 416.5,425.4 419.2,423.8C421.9,422.2 423.7,421.3 426.0,420.5C428.3,419.7 430.4,419.2 432.9,418.9C435.4,418.6 438.2,418.5 441.0,418.5C443.8,418.5 447.1,418.6 449.9,418.7C452.7,418.8 455.2,419.0 458.0,419.2C460.8,419.4 465.0,419.7 466.4,419.8"/>
<path d="M466.4,306.4C467.3,306.4 469.9,306.4 472.0,306.6C474.1,306.8 476.2,307.0 478.9,307.4C481.6,307.8 484.9,308.6 488.0,309.2C491.1,309.8 494.6,310.6 497.8,311.2C501.0,311.8 503.9,312.1 507.0,312.7C510.1,313.3 513.5,314.1 516.7,314.6C519.9,315.1 522.9,315.5 526.0,315.8C529.1,316.1 532.4,316.3 535.6,316.4C538.8,316.5 541.9,316.6 545.0,316.6C548.1,316.6 551.2,316.5 554.4,316.3C557.6,316.1 560.9,315.9 564.0,315.7C567.1,315.5 570.1,315.4 573.3,315.1C576.5,314.9 579.9,314.4 583.0,314.2C586.1,314.0 589.4,314.1 592.2,314.0C595.0,313.9 597.3,313.9 600.0,313.8C602.7,313.7 606.6,314.8 608.5,313.6C610.3,312.4 610.2,308.4 611.0,306.8C611.8,305.2 612.5,304.5 613.2,304.3C613.9,304.1 614.6,305.0 615.3,305.8C616.0,306.6 616.5,307.3 617.3,309.3C618.1,311.3 619.0,314.5 620.3,318.0C621.6,321.5 623.3,326.2 625.0,330.5C626.7,334.8 628.8,339.9 630.5,344.0C632.2,348.1 633.3,350.9 635.0,355.0C636.7,359.1 639.0,364.4 640.7,368.3C642.5,372.2 643.8,375.2 645.5,378.5C647.2,381.8 649.3,385.3 650.9,388.0C652.5,390.7 653.9,392.8 655.0,394.5C656.1,396.2 656.9,397.2 657.5,398.0C658.1,398.8 658.3,399.2 658.7,399.2C659.1,399.2 659.5,399.0 660.0,398.0C660.5,397.0 661.0,396.0 662.0,393.0C663.0,390.0 664.6,385.3 666.1,380.2C667.6,375.1 669.3,368.5 671.0,362.5C672.7,356.5 674.7,349.4 676.2,344.1C677.7,338.9 678.7,335.2 680.0,331.0C681.3,326.8 683.2,321.4 684.2,318.8C685.2,316.2 685.4,316.3 686.0,315.5C686.6,314.7 687.5,314.3 687.8,314.1C687.8,314.1 686.8,314.1 687.8,314.1C688.8,314.1 691.9,314.2 694.0,314.3C696.1,314.4 697.2,314.3 700.2,314.5C703.2,314.7 708.5,315.4 712.2,315.7C715.9,316.0 719.7,316.2 722.2,316.1C724.7,316.0 725.6,315.7 727.0,315.0C728.4,314.3 728.8,313.4 730.3,312.1C731.8,310.8 734.6,308.4 736.3,307.1C738.0,305.8 739.1,304.2 740.3,304.2C741.5,304.2 742.4,305.5 743.3,307.1C744.2,308.8 745.2,312.0 746.0,314.1C746.7,316.2 747.2,317.8 747.8,319.8C748.4,321.8 748.6,321.8 749.8,325.9C751.0,330.0 753.1,338.2 754.8,344.4C756.4,350.6 757.9,356.4 759.7,363.0C761.6,369.6 763.8,377.4 765.9,384.0C768.0,390.6 770.2,397.2 772.1,402.5C774.0,407.8 775.6,411.3 777.5,416.0C779.4,420.7 781.7,426.5 783.6,430.5C785.5,434.5 787.1,437.4 788.8,440.1C790.5,442.9 792.4,445.4 793.6,447.0C794.8,448.6 795.6,449.5 796.0,450.0"/>
<path d="M466.4,306.4C467.3,306.5 469.9,306.7 472.0,307.0C474.1,307.3 476.2,307.6 478.9,308.3C481.6,309.0 484.9,310.1 488.0,311.0C491.1,311.9 494.6,313.0 497.8,314.0C501.0,315.0 503.9,316.1 507.0,317.0C510.1,317.9 513.5,318.9 516.7,319.7C519.9,320.5 522.9,321.2 526.0,321.7C529.1,322.2 532.4,322.4 535.6,322.5C538.8,322.6 541.9,322.3 545.0,322.0C548.1,321.7 551.2,321.1 554.4,320.6C557.6,320.1 560.9,319.6 564.0,319.1C567.1,318.6 570.1,318.3 573.3,317.8C576.5,317.3 579.9,316.8 583.0,316.3C586.1,315.8 589.4,315.2 592.2,314.9C595.0,314.6 597.3,314.4 600.0,314.3C602.7,314.2 607.0,314.1 608.5,314.0C608.5,314.0 607.9,311.9 608.5,314.0C609.0,316.1 610.7,322.0 612.0,326.5C613.3,331.0 614.7,336.0 616.0,341.0C617.3,346.0 618.7,351.4 620.0,356.5C621.3,361.6 622.5,366.3 624.0,371.5C625.5,376.7 627.3,382.4 629.0,387.5C630.7,392.6 632.3,397.3 634.1,402.0C635.9,406.7 638.2,411.7 640.0,415.6C641.8,419.5 643.4,422.3 645.0,425.5C646.6,428.7 648.1,432.1 649.6,434.9C651.1,437.7 652.6,440.1 654.0,442.5C655.4,444.9 657.0,447.9 658.0,449.3C659.0,450.8 659.5,450.9 659.8,451.2C659.8,451.2 659.4,450.8 659.8,451.2C660.2,451.6 661.3,452.6 662.0,453.5C662.7,454.4 663.2,454.9 664.0,456.5C664.8,458.1 666.0,460.6 667.0,463.0C668.0,465.4 669.0,468.6 670.0,471.0C671.0,473.4 672.0,475.5 673.0,477.5C674.0,479.5 675.0,481.3 676.0,483.0C677.0,484.7 678.0,486.1 679.0,487.5C680.0,488.9 681.1,490.4 682.1,491.4C683.1,492.4 684.1,492.9 685.0,493.5C685.9,494.1 686.6,494.7 687.5,494.8C688.4,494.9 689.5,494.8 690.5,494.3C691.5,493.8 692.5,492.9 693.5,492.0C694.5,491.1 695.2,490.7 696.5,489.0C697.8,487.3 699.4,484.8 701.0,482.0C702.6,479.2 704.5,475.5 706.1,472.1C707.7,468.7 709.1,465.1 710.5,461.5C711.9,457.9 713.2,454.2 714.5,450.5C715.8,446.8 716.8,443.0 718.0,439.0C719.2,435.0 720.7,430.6 721.8,426.5C722.9,422.4 723.7,418.4 724.5,414.5C725.3,410.6 725.9,406.8 726.6,403.0C727.4,399.2 728.1,395.6 729.0,391.5C729.9,387.4 731.0,382.9 732.0,378.5C733.0,374.1 734.1,369.6 735.0,365.4C735.9,361.1 736.7,357.1 737.5,353.0C738.3,348.9 739.2,344.4 740.0,340.7C740.8,337.0 741.4,333.9 742.0,331.0C742.6,328.1 743.0,326.1 743.7,323.4C744.4,320.7 745.2,317.2 746.0,314.6C746.7,312.1 747.5,309.8 748.3,308.1C749.1,306.4 750.0,304.7 750.7,304.3C751.5,303.9 752.1,304.8 752.8,305.5C753.5,306.2 754.1,307.3 754.8,308.6C755.5,309.9 756.4,311.6 757.2,313.5C758.0,315.4 758.2,316.2 759.7,319.7C761.2,323.2 763.8,329.8 765.9,334.5C768.0,339.2 770.0,343.6 772.1,348.1C774.2,352.6 776.2,357.4 778.3,361.7C780.3,366.0 782.5,370.4 784.4,374.1C786.2,377.8 787.8,380.9 789.4,384.0C791.0,387.1 792.6,390.4 793.7,392.6C794.8,394.8 795.6,396.3 796.0,397.0"/>
<path d="M466.4,419.8C467.8,419.8 471.4,420.0 475.0,419.8C478.6,419.6 484.6,419.2 488.3,418.8C492.0,418.4 493.9,418.0 497.0,417.4C500.1,416.8 504.0,415.8 507.2,415.1C510.4,414.4 512.9,413.8 516.0,413.0C519.1,412.2 522.9,411.2 526.1,410.3C529.3,409.4 531.9,408.4 535.0,407.5C538.1,406.6 541.8,405.6 545.0,404.7C548.2,403.8 550.9,403.1 554.0,402.3C557.1,401.5 560.7,400.6 563.9,399.9C567.1,399.1 569.9,398.4 573.0,397.8C576.1,397.2 579.6,396.6 582.8,396.2C586.0,395.8 588.9,395.5 592.0,395.3C595.1,395.1 599.0,394.8 601.7,394.8C604.4,394.8 606.9,394.9 608.5,395.2C610.0,395.5 610.1,395.7 611.0,396.5C611.9,397.3 613.0,398.4 614.0,400.2C615.0,401.9 616.0,404.3 617.0,407.0C618.0,409.7 618.7,412.1 620.0,416.3C621.3,420.6 623.3,426.8 625.0,432.5C626.7,438.2 628.4,444.8 630.1,450.3C631.8,455.8 633.3,460.5 635.0,465.5C636.7,470.5 638.4,475.7 640.1,480.4C641.8,485.1 643.3,489.1 645.0,493.5C646.7,497.9 648.5,502.8 650.1,506.5C651.7,510.2 653.1,512.8 654.5,515.5C655.9,518.2 657.1,521.5 658.7,522.5C660.3,523.5 662.1,522.1 664.0,521.8C665.9,521.5 668.3,520.9 670.1,520.5C671.9,520.1 673.3,519.6 675.0,519.3C676.7,519.0 678.1,518.6 680.2,518.5C682.3,518.4 685.3,518.8 687.6,518.5C689.9,518.2 692.3,517.8 694.2,516.5C696.1,515.2 697.3,513.2 699.0,510.5C700.7,507.8 702.4,504.4 704.2,500.4C706.0,496.4 708.0,491.5 710.0,486.5C712.0,481.5 714.2,475.8 716.2,470.4C718.2,465.0 720.0,459.7 722.0,454.0C724.0,448.3 726.5,441.7 728.3,436.3C730.1,430.9 731.3,426.2 733.0,421.5C734.7,416.8 736.8,412.1 738.3,408.3C739.8,404.6 740.7,401.1 742.0,399.0C743.3,396.9 744.8,396.0 746.0,395.7C747.1,395.4 747.9,396.3 749.0,397.0C750.1,397.7 751.3,398.8 752.3,400.0C753.3,401.2 754.0,402.9 754.8,404.5C755.6,406.1 756.4,407.9 757.2,409.9C758.0,411.9 759.0,414.3 759.8,416.5C760.6,418.7 761.4,420.6 762.2,423.0C763.0,425.4 763.6,428.2 764.4,431.0C765.2,433.8 766.1,436.8 767.0,440.0C767.9,443.2 768.4,445.3 769.7,450.0C771.0,454.7 773.2,462.2 774.9,468.3C776.6,474.4 778.4,481.1 780.1,486.5C781.8,491.9 783.5,496.5 785.3,501.0C787.0,505.5 789.2,510.3 790.6,513.5C792.0,516.7 792.7,518.5 793.6,520.3C794.5,522.0 795.6,523.4 796.0,524.0"/>
</g>
<path d="M112.2,478.25H123.0M786.2,478.25H796.0M112.2,414.50H123.0M786.2,414.50H796.0M112.2,350.75H123.0M786.2,350.75H796.0M112.2,287.00H123.0M786.2,287.00H796.0M112.2,223.25H123.0M786.2,223.25H796.0M112.2,159.50H123.0M786.2,159.50H796.0M112.2,95.75H123.0M786.2,95.75H796.0M112.2,32.00H123.0M786.2,32.00H796.0M228.45,535.9V525.3M228.45,32.1V42.7M286.40,535.9V525.3M286.40,32.1V42.7M315.50,535.9V525.3M315.50,32.1V42.7M466.40,535.9V525.3M466.40,32.1V42.7M608.45,535.9V525.3M608.45,32.1V42.7M658.70,535.9V525.3M658.70,32.1V42.7M687.80,535.9V525.3M687.80,32.1V42.7M745.95,535.9V525.3M745.95,32.1V42.7" stroke="#000" stroke-width="2.5" fill="none"/>
<rect x="112.2" y="32.1" width="683.8" height="503.8" fill="none" stroke="#000" stroke-width="5.4"/>
<text x="97.3" y="487.9" font-family="Liberation Sans" font-size="29.3" font-weight="normal" text-anchor="end">−3</text>
<text x="97.3" y="424.2" font-family="Liberation Sans" font-size="29.3" font-weight="normal" text-anchor="end">−2</text>
<text x="97.3" y="360.4" font-family="Liberation Sans" font-size="29.3" font-weight="normal" text-anchor="end">−1</text>
<text x="97.3" y="296.7" font-family="Liberation Sans" font-size="29.3" font-weight="normal" text-anchor="end">0</text>
<text x="97.3" y="232.9" font-family="Liberation Sans" font-size="29.3" font-weight="normal" text-anchor="end">1</text>
<text x="97.3" y="169.2" font-family="Liberation Sans" font-size="29.3" font-weight="normal" text-anchor="end">2</text>
<text x="97.3" y="105.5" font-family="Liberation Sans" font-size="29.3" font-weight="normal" text-anchor="end">3</text>
<text x="97.3" y="41.7" font-family="Liberation Sans" font-size="29.3" font-weight="normal" text-anchor="end">4</text>
<text x="0.0" y="0.0" font-family="Liberation Sans" font-size="29.5" font-weight="normal" text-anchor="middle" transform="translate(29.0,283.3) rotate(-90)">Energy (eV)</text>
<text x="112.7" y="573.2" font-family="Liberation Serif" font-size="31" font-weight="normal" text-anchor="middle">Γ</text>
<text x="228.4" y="572.0" font-family="Liberation Sans" font-size="29.6" font-weight="normal" text-anchor="middle">X</text>
<text x="286.4" y="572.0" font-family="Liberation Sans" font-size="29.6" font-weight="normal" text-anchor="middle">W</text>
<text x="315.5" y="572.0" font-family="Liberation Sans" font-size="29.6" font-weight="normal" text-anchor="middle">K</text>
<text x="466.9" y="573.2" font-family="Liberation Serif" font-size="31" font-weight="normal" text-anchor="middle">Γ</text>
<text x="608.5" y="572.0" font-family="Liberation Sans" font-size="29.6" font-weight="normal" text-anchor="middle">L</text>
<text x="658.7" y="572.0" font-family="Liberation Sans" font-size="29.6" font-weight="normal" text-anchor="middle">U</text>
<text x="687.8" y="572.0" font-family="Liberation Sans" font-size="29.6" font-weight="normal" text-anchor="middle">W</text>
<text x="746.0" y="572.0" font-family="Liberation Sans" font-size="29.6" font-weight="normal" text-anchor="middle">L</text>
<text x="796.0" y="572.0" font-family="Liberation Sans" font-size="29.6" font-weight="normal" text-anchor="middle">K</text>
<text x="-0.5" y="23.0" font-family="Liberation Sans" font-size="41" font-weight="bold" text-anchor="start">a</text>
<g clip-path="url(#cp)" fill="none" stroke-width="6.8" stroke-linejoin="round" stroke-linecap="round">
<path d="M813.5,30.0 L813.8,60.0 L814.2,90.0 L814.8,118.0 L815.6,130.0 L816.6,165.0 L817.6,188.0 L821.0,197.0 L825.9,205.6 L829.4,217.2 L831.7,231.2 L837.6,241.6 L844.5,254.4 L836.4,257.9 L831.7,264.9 L824.8,269.5 L816.6,278.8 L809.5,283.8 L810.0,290.0 L813.0,360.0 L813.3,437.0 L814.3,474.0 L813.5,520.0 L812.5,540.0" stroke="#7590ff"/>
<path d="M885.0,30.0 L885.0,120.0 L880.0,192.0 L872.0,202.0 L867.8,206.0 L864.5,212.5 L861.5,219.5 L860.3,226.0 L860.2,232.3 L862.8,238.0 L863.1,242.0 L864.3,247.4 L868.2,253.2 L860.8,256.7 L855.0,261.4 L842.2,268.5 L828.3,275.0 L816.6,280.0 L809.5,283.6 L809.5,285.5 L825.0,289.3 L842.1,291.9 L870.0,292.9 L897.7,293.8 L925.0,294.6 L953.3,295.6 L977.4,297.5 L995.0,299.0 L995.0,303.0 L977.4,304.0 L953.3,304.9 L951.4,306.0 L962.6,309.5 L977.4,310.4 L995.0,311.0 L995.0,338.0 L977.4,346.6 L965.0,353.0 L953.3,359.6 L943.0,366.5 L934.7,374.4 L931.0,383.7 L923.6,391.1 L934.7,396.6 L948.0,399.2 L962.6,402.2 L977.4,407.7 L995.0,410.0 L995.0,475.0 L977.4,476.0 L953.3,477.8 L934.7,481.6 L916.2,486.2 L914.4,494.5 L910.7,503.8 L908.8,509.4 L888.4,513.1 L864.3,518.6 L860.6,522.3 L842.1,525.1 L823.5,528.8 L816.1,530.7 L812.0,533.0" stroke="#000ec6"/>
<path d="M849.0,30.0 L845.0,43.5 L848.2,55.0 L853.5,59.5 L845.7,64.6 L849.0,73.6 L846.5,83.4 L850.6,92.3 L855.0,94.5 L865.5,96.8 L855.7,98.2 L850.1,101.0 L844.5,106.6 L841.0,111.6 L839.6,114.0 L845.0,112.5 L875.0,112.5" stroke="#00a516"/>
<path d="M875.0,121.3 L838.0,121.3 L834.6,122.5 L831.1,125.6 L829.0,138.9 L829.0,150.0 L827.1,165.0 L826.3,188.1 L825.0,205.0 L824.5,220.0 L824.8,235.0 L825.5,246.3 L825.5,254.4 L822.0,265.0 L818.0,278.0 L809.5,284.5 L816.1,296.5 L821.7,315.1 L820.8,352.1 L819.8,389.2 L822.6,414.2 L820.8,427.8 L818.0,455.6 L815.2,474.1 L813.3,492.7 L812.5,540.0" stroke="#00a516"/>
<polygon points="838.0,113.0 845.0,111.0 875.0,111.0 875.0,123.0 836.0,122.5" fill="#00a516" stroke="none"/>
<path d="M822.9,30.0 L822.1,44.3 L825.0,52.0 L829.4,59.0 L823.7,64.6 L823.7,76.9 L826.0,84.0 L829.4,88.3 L834.0,89.8 L840.8,90.7 L837.6,97.2 L836.0,105.4 L831.0,108.3 L826.2,111.1 L826.9,117.9 L827.6,122.1 L829.0,127.7 L850.1,130.5 L830.4,133.3 L826.2,135.4 L817.1,138.2 L815.5,145.0 L814.3,165.0 L814.3,200.0 L815.5,234.7 L817.8,257.9 L814.9,275.3 L809.5,284.0 L811.0,292.0 L813.3,296.5 L816.1,324.3 L815.2,361.4 L814.3,398.5 L815.2,418.0 L818.0,455.6 L819.8,492.7 L819.8,511.2 L816.1,526.0 L812.5,540.0" stroke="#26fa6b"/>
<path d="M903.8,232.3 L912.1,226.0 L914.7,229.3 L904.3,232.6 L912.1,237.8 L918.6,243.0 L921.2,248.2 L933.0,252.1 L934.2,254.7 L918.6,254.7 L904.3,257.3 L895.2,261.2 L879.5,265.1 L860.0,267.7 L839.9,273.0 L824.8,277.7 L809.5,283.0 L809.5,287.0 L828.0,293.0 L842.1,296.5 L843.9,304.0 L856.9,315.1 L862.5,322.5 L860.6,342.9 L856.9,361.4 L856.0,379.9 L855.0,396.6 L855.5,403.0 L862.5,409.3 L879.1,413.9 L906.0,414.5 L875.4,417.6 L868.0,427.8 L869.0,437.1 L875.4,451.9 L884.7,461.2 L884.7,468.6 L898.6,470.4 L882.8,472.3 L860.6,476.0 L842.1,481.6 L836.5,487.1 L837.4,507.5 L832.8,513.1 L825.4,518.6 L819.8,524.2 L815.2,529.7 L812.0,533.0" stroke="#e01e00"/>
<path d="M815.8,30.0 L816.2,50.0 L816.4,68.7 L818.8,85.0 L819.8,100.0 L820.5,117.6 L821.5,135.0 L821.9,150.0 L821.3,164.9 L820.7,199.8 L821.3,234.7 L824.8,255.6 L823.6,269.5 L816.6,278.8 L809.5,283.5 L809.5,287.5 L818.0,290.5 L827.2,294.7 L842.1,304.0 L860.6,310.4 L886.6,317.9 L860.6,328.0 L853.0,334.0 L847.6,341.0 L842.5,348.0 L838.4,355.8 L834.5,363.0 L831.0,370.7 L828.3,378.0 L826.3,385.5 L825.4,398.5 L826.5,404.0 L829.1,407.7 L833.0,410.5 L838.4,413.5 L831.0,416.7 L828.2,437.1 L825.4,455.6 L822.6,474.1 L818.0,492.7 L816.1,511.2 L814.3,529.7 L813.0,540.0" stroke="#ff9c7e"/>
</g>
<line x1="809.0" y1="283.8" x2="979.8" y2="283.8" stroke="#000" stroke-width="2" stroke-dasharray="10.5 10.08" stroke-dashoffset="0"/>
<rect x="809.0" y="32.1" width="170.8" height="503.8" fill="none" stroke="#000" stroke-width="5.4"/>
<text x="894.4" y="572.0" font-family="Liberation Sans" font-size="29.6" font-weight="normal" text-anchor="middle">PDOS</text>
<rect x="873" y="16" width="124.6" height="207.7" rx="4" fill="#999"/>
<rect x="870.2" y="13.2" width="124" height="206.8" rx="4" fill="#fff" stroke="#000" stroke-width="1.6"/>
<line x1="876.7" y1="34.7" x2="911" y2="34.7" stroke="#7590ff" stroke-width="7"/>
<text x="923" y="43.1" font-family="Liberation Sans" font-size="25">Bi 6<tspan font-style="italic" dx="2">s</tspan></text>
<line x1="876.7" y1="66.8" x2="911" y2="66.8" stroke="#000ec6" stroke-width="7"/>
<text x="923" y="75.2" font-family="Liberation Sans" font-size="25">Bi 6<tspan font-style="italic" dx="2">p</tspan></text>
<line x1="876.7" y1="99.1" x2="911" y2="99.1" stroke="#26fa6b" stroke-width="7"/>
<text x="923" y="107.5" font-family="Liberation Sans" font-size="25">Li 2<tspan font-style="italic" dx="2">s</tspan></text>
<line x1="876.7" y1="130.9" x2="911" y2="130.9" stroke="#00a516" stroke-width="7"/>
<text x="923" y="139.3" font-family="Liberation Sans" font-size="25">Li 2<tspan font-style="italic" dx="2">p</tspan></text>
<line x1="876.7" y1="162.6" x2="911" y2="162.6" stroke="#ff9c7e" stroke-width="7"/>
<text x="923" y="171.0" font-family="Liberation Sans" font-size="25">Tl 6<tspan font-style="italic" dx="2">s</tspan></text>
<line x1="876.7" y1="195.1" x2="911" y2="195.1" stroke="#e01e00" stroke-width="7"/>
<text x="923" y="203.5" font-family="Liberation Sans" font-size="25">Tl 6<tspan font-style="italic" dx="2">p</tspan></text>
<g clip-path="url(#cb)" stroke="#000" stroke-width="2" stroke-linejoin="round">
<path d="M208.3,648.0C208.9,650.8 210.8,659.2 212.0,665.0C213.2,670.8 214.3,677.8 215.5,682.6C216.7,687.4 217.8,690.3 219.0,694.0C220.2,697.7 221.4,701.8 222.4,704.7C223.4,707.6 224.2,709.5 225.0,711.5C225.8,713.5 226.7,715.3 227.5,716.6C228.3,717.9 229.2,718.6 230.0,719.5C230.8,720.4 231.4,722.0 232.2,721.8C232.9,721.6 233.7,719.6 234.5,718.5C235.3,717.4 236.0,717.1 236.8,715.0C237.6,712.9 238.5,709.4 239.5,706.0C240.5,702.6 241.8,698.5 242.8,694.5C243.8,690.5 244.7,686.2 245.5,682.0C246.3,677.8 247.2,673.0 247.9,669.0C248.7,665.0 249.3,661.5 250.0,658.0C250.7,654.5 251.5,649.7 251.8,648.0Z" fill="#ff3548"/>
<path d="M553.3,648.0C553.9,649.8 555.8,655.5 557.0,659.0C558.2,662.5 559.5,665.7 560.8,668.9C562.1,672.1 563.6,675.1 565.0,678.0C566.4,680.9 567.6,683.8 568.9,686.5C570.2,689.2 571.7,691.6 573.0,694.0C574.3,696.4 575.5,698.6 576.9,700.9C578.3,703.2 579.9,705.6 581.5,708.0C583.1,710.4 584.9,713.2 586.5,715.4C588.1,717.6 589.4,719.2 591.0,721.0C592.6,722.8 594.3,724.9 596.1,726.4C597.9,727.9 599.9,729.0 602.0,729.8C604.1,730.6 606.8,731.0 608.9,731.1C611.0,731.2 612.6,730.9 614.5,730.5C616.4,730.1 618.3,729.7 620.2,729.0C622.1,728.3 624.1,727.3 626.0,726.5C627.9,725.7 629.7,724.8 631.4,724.2C633.1,723.6 634.5,723.1 636.0,722.8C637.5,722.5 639.2,722.5 640.2,722.6C641.2,722.7 641.5,723.0 642.0,723.5C642.5,724.0 642.9,724.6 643.4,725.5C643.9,726.4 644.5,727.9 645.0,729.0C645.5,730.1 646.1,731.4 646.6,732.4C647.1,733.4 647.5,734.2 648.0,734.8C648.5,735.4 648.8,735.9 649.3,735.9C649.8,735.9 650.3,735.5 650.8,734.8C651.3,734.0 651.7,733.0 652.2,731.4C652.7,729.8 653.3,727.4 653.8,725.0C654.3,722.6 654.9,720.2 655.4,717.0C655.9,713.8 656.5,709.5 657.0,705.5C657.5,701.5 658.1,697.0 658.6,692.9C659.1,688.8 659.7,684.7 660.2,681.0C660.7,677.3 661.3,674.0 661.8,670.5C662.3,667.0 662.6,663.8 663.0,660.0C663.4,656.2 664.1,650.0 664.3,648.0Z" fill="#ff3548"/>
<path d="M836.3,648.0C837.2,649.9 840.1,655.7 842.0,659.5C843.9,663.3 845.8,667.2 847.6,670.9C849.4,674.6 851.2,677.8 853.0,681.5C854.8,685.2 856.9,689.6 858.6,692.9C860.3,696.2 861.5,698.6 863.0,701.5C864.5,704.4 866.1,707.6 867.4,710.5C868.7,713.4 869.9,716.2 871.0,719.0C872.1,721.8 873.2,725.0 874.0,727.1C874.8,729.2 875.2,730.2 875.8,731.5C876.3,732.8 876.8,733.9 877.3,734.8C877.8,735.7 878.2,736.3 878.7,736.8C879.2,737.2 879.6,737.5 880.1,737.5C880.6,737.5 881.2,737.2 881.8,736.8C882.3,736.3 882.9,735.8 883.4,734.8C883.9,733.8 884.5,732.3 885.0,731.0C885.5,729.7 886.2,728.2 886.7,727.1C887.2,726.0 887.5,725.0 888.0,724.3C888.5,723.6 888.9,722.8 889.4,722.8C889.9,722.8 890.3,723.6 890.9,724.3C891.5,725.0 892.1,726.0 892.7,727.1C893.3,728.2 893.9,729.9 894.5,731.0C895.1,732.1 895.6,733.0 896.1,733.7C896.6,734.4 896.8,734.7 897.2,735.0C897.6,735.3 897.9,735.4 898.3,735.3C898.7,735.2 899.1,735.1 899.5,734.5C899.9,733.9 900.1,733.1 900.5,731.5C900.9,729.9 901.5,727.4 902.0,725.0C902.5,722.6 903.2,720.3 903.8,717.2C904.4,714.1 905.0,710.2 905.5,706.5C906.0,702.8 906.6,698.9 907.1,695.1C907.6,691.4 908.0,687.7 908.5,684.0C909.0,680.3 909.4,676.9 909.8,673.1C910.2,669.3 910.6,665.2 911.0,661.0C911.4,656.8 911.9,650.2 912.1,648.0Z" fill="#ff3548"/>
<path d="M206.7,914.0C207.4,910.5 209.4,899.9 210.8,893.0C212.2,886.1 213.7,878.8 214.9,872.5C216.1,866.2 217.0,861.2 218.0,855.5C219.0,849.8 220.1,844.3 221.1,838.3C222.1,832.3 223.2,825.7 224.2,819.5C225.2,813.3 226.4,805.9 227.3,801.1C228.2,796.4 228.7,794.1 229.5,791.0C230.3,787.9 231.2,784.5 231.9,782.4C232.7,780.3 233.2,779.4 234.0,778.3C234.8,777.2 235.8,776.1 236.6,775.8C237.4,775.5 238.2,776.2 239.0,776.6C239.8,777.0 240.3,777.2 241.3,778.0C242.3,778.8 243.7,780.2 245.0,781.5C246.3,782.8 247.3,783.8 249.0,785.5C250.7,787.2 252.9,789.7 255.0,791.5C257.1,793.3 259.2,794.9 261.5,796.4C263.8,797.9 266.4,799.2 269.0,800.8C271.6,802.3 274.7,804.2 277.0,805.7C279.3,807.2 280.9,808.2 283.0,809.8C285.1,811.3 287.1,813.0 289.4,815.0C291.7,817.0 294.4,819.2 297.0,821.5C299.6,823.8 302.3,826.6 304.9,829.0C307.5,831.4 309.9,833.7 312.5,836.0C315.1,838.3 317.9,840.7 320.5,843.0C323.1,845.3 325.4,847.7 328.0,850.0C330.6,852.3 333.4,855.0 336.0,857.0C338.6,859.0 340.9,860.8 343.5,862.3C346.1,863.8 348.9,865.2 351.5,866.3C354.1,867.3 356.4,868.0 359.0,868.6C361.6,869.2 364.3,869.6 367.1,870.0C369.9,870.4 373.1,870.7 376.0,871.0C378.9,871.3 382.0,871.4 384.8,871.6C387.6,871.9 390.3,872.1 393.0,872.5C395.7,872.9 398.5,873.5 401.2,874.1C403.9,874.7 406.4,875.2 409.0,876.0C411.6,876.8 414.2,877.7 416.8,878.7C419.4,879.7 421.9,880.9 424.5,882.2C427.1,883.5 429.7,885.0 432.3,886.5C434.9,888.0 437.4,889.5 440.0,891.0C442.6,892.5 445.2,894.2 447.8,895.8C450.4,897.4 452.9,899.0 455.5,900.5C458.1,902.0 460.6,903.6 463.4,905.1C466.1,906.6 469.0,908.3 472.0,909.8C475.0,911.3 479.9,913.3 481.5,914.0Z" fill="#0396ff"/>
<path d="M348.4,914.0C349.1,912.6 351.1,908.1 352.5,905.5C353.9,902.9 355.1,900.7 356.5,898.5C357.9,896.3 359.5,894.2 360.9,892.2C362.3,890.2 363.6,888.3 365.0,886.5C366.4,884.7 367.6,883.0 369.0,881.5C370.4,880.0 371.9,878.6 373.3,877.4C374.7,876.2 376.2,875.0 377.5,874.2C378.8,873.4 379.8,872.9 381.0,872.5C382.2,872.1 383.5,871.9 384.8,871.8C386.1,871.7 387.6,871.9 389.0,872.1C390.4,872.3 391.7,872.5 393.0,872.8C394.3,873.1 395.6,873.5 397.0,874.0C398.4,874.5 399.2,874.7 401.2,875.8C403.2,876.9 406.4,878.5 409.0,880.5C411.6,882.5 414.5,885.4 416.8,887.6C419.1,889.9 420.9,891.9 423.0,894.0C425.1,896.1 427.2,898.4 429.2,900.5C431.2,902.6 432.9,904.2 435.0,906.5C437.1,908.8 440.5,912.8 441.6,914.0" fill="none"/>
<path d="M613.1,914.0C614.1,913.7 617.0,912.8 619.0,912.3C621.0,911.8 622.9,911.4 625.1,911.0C627.3,910.6 629.5,910.4 632.0,910.2C634.5,910.0 638.5,909.6 640.1,909.6C641.7,909.6 641.1,909.1 641.4,910.2C641.6,911.3 641.6,915.0 641.6,916.0Z" fill="#0396ff"/>
<path d="M641.4,914.0C641.5,912.8 641.7,909.3 642.0,907.0C642.3,904.7 642.8,902.4 643.1,900.1C643.4,897.8 643.7,895.5 644.0,893.0C644.3,890.5 644.8,887.5 645.1,885.1C645.4,882.7 645.7,880.7 646.0,878.5C646.3,876.3 646.7,874.1 647.1,872.1C647.5,870.1 648.0,868.0 648.5,866.5C649.0,865.0 649.6,863.6 650.1,863.3C650.6,863.0 651.1,863.7 651.6,864.5C652.1,865.3 652.6,866.6 653.1,868.1C653.6,869.6 654.0,871.5 654.5,873.5C655.0,875.5 655.7,877.6 656.2,880.1C656.8,882.6 657.3,885.5 657.8,888.5C658.3,891.5 658.9,895.2 659.2,898.1C659.5,901.0 659.6,903.4 659.8,906.0C660.0,908.6 660.2,912.7 660.3,914.0Z" fill="#0396ff"/>
<path d="M859.2,914.0C859.7,912.8 861.0,909.1 862.0,906.5C863.0,903.9 864.2,901.2 865.2,898.6C866.2,896.0 867.1,893.5 868.0,891.0C868.9,888.5 869.9,885.9 870.7,883.3C871.5,880.7 872.2,878.0 873.0,875.5C873.8,873.0 874.5,870.6 875.2,868.5C875.9,866.4 876.5,864.3 877.2,863.0C877.9,861.7 878.5,860.7 879.2,860.5C879.9,860.3 880.5,860.8 881.2,861.8C881.9,862.8 882.7,864.8 883.3,866.8C883.9,868.8 884.2,871.2 884.7,873.5C885.2,875.8 885.6,878.3 886.0,880.6C886.4,882.9 886.7,885.2 887.0,887.5C887.3,889.8 887.5,892.1 887.8,894.1C888.0,896.1 888.3,897.9 888.5,899.5C888.7,901.1 889.0,901.1 889.1,903.5C889.2,905.9 889.4,912.2 889.4,914.0Z" fill="#0396ff"/>
<path d="M889.2,916.0C889.2,914.0 889.1,907.2 889.2,904.0C889.3,900.8 889.6,899.2 889.8,897.0C890.0,894.8 890.2,892.8 890.5,890.5C890.8,888.2 891.3,885.4 891.8,883.0C892.2,880.6 892.8,878.2 893.2,876.1C893.7,874.0 894.0,872.1 894.5,870.5C895.0,868.9 895.4,867.4 895.9,866.2C896.4,865.1 896.8,864.1 897.2,863.6C897.6,863.1 898.0,863.0 898.4,863.1C898.8,863.2 899.3,863.5 899.8,864.2C900.3,864.9 900.8,865.7 901.3,867.1C901.8,868.5 902.2,870.5 902.7,872.5C903.2,874.5 903.6,876.5 904.0,878.8C904.4,881.1 904.8,883.6 905.3,886.5C905.8,889.4 906.3,892.9 906.7,895.9C907.1,898.9 907.3,901.5 907.6,904.5C907.9,907.5 908.4,912.4 908.5,914.0Z" fill="#0396ff"/>
</g>
<line x1="384.80" y1="647.6" x2="384.80" y2="915.8" stroke="#000" stroke-width="1.1" stroke-dasharray="10.7 9.88" stroke-dashoffset="16.7"/>
<line x1="641.30" y1="647.6" x2="641.30" y2="915.8" stroke="#000" stroke-width="1.1" stroke-dasharray="10.7 9.88" stroke-dashoffset="16.7"/>
<line x1="731.90" y1="647.6" x2="731.90" y2="915.8" stroke="#000" stroke-width="1.1" stroke-dasharray="10.7 9.88" stroke-dashoffset="16.7"/>
<line x1="784.50" y1="647.6" x2="784.50" y2="915.8" stroke="#000" stroke-width="1.1" stroke-dasharray="10.7 9.88" stroke-dashoffset="16.7"/>
<line x1="889.40" y1="647.6" x2="889.40" y2="915.8" stroke="#000" stroke-width="1.1" stroke-dasharray="10.7 9.88" stroke-dashoffset="16.7"/>
<line x1="112.5" y1="759.60" x2="980.0" y2="759.60" stroke="#000" stroke-width="2" stroke-dasharray="10.5 10.08"/>
<line x1="112.5" y1="733.2" x2="980.0" y2="733.2" stroke="#f5354b" stroke-width="1.5"/>
<line x1="112.5" y1="785.6" x2="980.0" y2="785.6" stroke="#0a9af5" stroke-width="1.5"/>
<path d="M112.5,684.80H123.0M969.5,684.80H980.0M112.5,759.60H123.0M969.5,759.60H980.0M112.5,834.40H123.0M969.5,834.40H980.0M112.5,909.20H123.0M969.5,909.20H980.0M384.80,915.8V905.2M384.80,647.6V658.2M641.30,915.8V905.2M641.30,647.6V658.2M731.90,915.8V905.2M731.90,647.6V658.2M784.50,915.8V905.2M784.50,647.6V658.2M889.40,915.8V905.2M889.40,647.6V658.2" stroke="#000" stroke-width="2.5" fill="none"/>
<rect x="112.5" y="647.6" width="867.5" height="268.2" fill="none" stroke="#000" stroke-width="5.4"/>
<text x="97.0" y="694.6" font-family="Liberation Sans" font-size="29.3" font-weight="normal" text-anchor="end">0.2</text>
<text x="97.0" y="769.4" font-family="Liberation Sans" font-size="29.3" font-weight="normal" text-anchor="end">0.0</text>
<text x="97.0" y="844.2" font-family="Liberation Sans" font-size="29.3" font-weight="normal" text-anchor="end">−0.2</text>
<text x="97.0" y="919.0" font-family="Liberation Sans" font-size="29.3" font-weight="normal" text-anchor="end">−0.4</text>
<text x="0.0" y="0.0" font-family="Liberation Sans" font-size="29.5" font-weight="normal" text-anchor="middle" transform="translate(22.2,781.1) rotate(-90)">Energy (eV)</text>
<text x="112.5" y="952.3" font-family="Liberation Sans" font-size="29.6" font-weight="normal" text-anchor="middle">K</text>
<text x="385.3" y="953.5" font-family="Liberation Serif" font-size="31" font-weight="normal" text-anchor="middle">Γ</text>
<text x="641.3" y="952.3" font-family="Liberation Sans" font-size="29.6" font-weight="normal" text-anchor="middle">L</text>
<text x="731.9" y="952.3" font-family="Liberation Sans" font-size="29.6" font-weight="normal" text-anchor="middle">U</text>
<text x="784.5" y="952.3" font-family="Liberation Sans" font-size="29.6" font-weight="normal" text-anchor="middle">W</text>
<text x="889.4" y="952.3" font-family="Liberation Sans" font-size="29.6" font-weight="normal" text-anchor="middle">L</text>
<text x="980.0" y="952.3" font-family="Liberation Sans" font-size="29.6" font-weight="normal" text-anchor="middle">K</text>
<text x="-1.5" y="656.0" font-family="Liberation Sans" font-size="41" font-weight="bold" text-anchor="start">b</text>
<polygon points="212.8,1141.4 219.2,1151.3 218.6,1158.5 220.5,1160.0 224.8,1168.9 226.5,1180.2 223.2,1185.3 220.5,1181.8 219.6,1167.3 217.0,1161.5 214.4,1160.9 210.4,1158.5 211.2,1148.1" fill="#0891ff"/>
<polygon points="335.5,1140.9 333.1,1157.7 330.7,1160.9 327.5,1159.3 329.1,1149.7" fill="#0891ff"/>
<polygon points="348.8,1150.0 350.4,1172.9 347.5,1175.3 341.9,1170.5 341.6,1160.9" fill="#0891ff"/>
<polygon points="210.4,1232.5 217.6,1236.5 218.4,1246.1 212.0,1257.3 209.9,1242.9" fill="#0891ff"/>
<polygon points="224.0,1237.3 226.5,1238.9 224.8,1247.7 218.4,1256.5 220.0,1244.5" fill="#0891ff"/>
<polygon points="329.9,1231.4 332.3,1233.3 334.3,1256.5 332.3,1256.1 327.5,1244.5 326.7,1234.9" fill="#0891ff"/>
<polygon points="344.3,1246.9 349.1,1247.7 347.5,1265.4 341.1,1254.9 341.6,1249.3" fill="#0891ff"/>
<polygon points="266.5,1285.7 275.3,1279.1 290.3,1279.1 297.5,1286.0 296.6,1289.7 267.4,1289.7" fill="#0891ff"/>
<path d="M259.3,1191.1C261.8,1191.2 269.1,1191.6 274.0,1191.6C278.9,1191.6 286.5,1191.2 289.0,1191.1" fill="none" stroke="#0891ff" stroke-width="1.6"/>
<path d="M271.3,1215.7C273.8,1215.8 281.1,1216.1 286.0,1216.1C290.9,1216.1 298.2,1215.8 300.7,1215.7" fill="none" stroke="#0891ff" stroke-width="1.6"/>
<path d="M272.4,1030.6L282.6,1047.1M272.4,1030.6L188.6,1078.5M272.4,1030.6L345.2,1078.1M282.6,1047.1L210.6,1108.6M282.6,1047.1L365.2,1109.2M188.6,1078.5L115.6,1141.3M188.6,1078.5L261.0,1125.2M210.6,1108.6L126.5,1155.9M210.6,1108.6L293.1,1170.3M115.6,1141.3L126.5,1155.9M115.6,1141.3L114.0,1250.5M126.5,1155.9L125.0,1266.2M114.0,1250.5L125.0,1266.2M114.0,1250.5L186.2,1297.2M125.0,1266.2L208.2,1327.9M186.2,1297.2L259.3,1235.1M186.2,1297.2L270.0,1358.4M208.2,1327.9L291.7,1281.2M208.2,1327.9L280.0,1374.0M270.0,1358.4L280.0,1374.0M270.0,1358.4L342.2,1296.6M280.0,1374.0L363.8,1327.3M342.2,1296.6L259.3,1235.1M342.2,1296.6L425.9,1249.7M363.8,1327.3L291.7,1281.2M363.8,1327.3L436.8,1264.6M425.9,1249.7L436.8,1264.6M425.9,1249.7L426.6,1139.5M436.8,1264.6L437.5,1154.2M426.6,1139.5L437.5,1154.2M426.6,1139.5L345.2,1078.1M437.5,1154.2L365.2,1109.2M345.2,1078.1L261.0,1125.2M365.2,1109.2L293.1,1170.3M261.0,1125.2L259.3,1235.1M293.1,1170.3L291.7,1281.2" stroke="#000" stroke-width="3.1" fill="none" stroke-linejoin="round" stroke-linecap="round"/>
<polygon points="268.0,1119.5 269.3,1116.0 298.1,1116.0 299.8,1120.0 291.1,1126.5 276.5,1126.5" fill="#0891ff"/>
<polygon points="737.6,1103.2 744.0,1109.5 749.5,1123.5 751.7,1131.7 745.7,1127.3 740.5,1116.5" fill="#ff0016"/>
<path d="M802.4,1024.0L815.2,1046.0M802.4,1024.0L718.2,1071.1M802.4,1024.0L874.2,1066.1M815.2,1046.0L744.6,1113.8M815.2,1046.0L900.2,1108.6M718.2,1071.1L647.6,1139.3M718.2,1071.1L791.0,1112.2M744.6,1113.8L660.5,1159.9M744.6,1113.8L829.6,1175.9M647.6,1139.3L660.5,1159.9M647.6,1139.3L648.4,1249.1M660.5,1159.9L661.7,1269.8M648.4,1249.1L661.7,1269.8M648.4,1249.1L721.2,1289.8M661.7,1269.8L747.2,1331.3M721.2,1289.8L791.5,1221.9M721.2,1289.8L806.2,1351.6M747.2,1331.3L831.1,1285.2M747.2,1331.3L819.5,1373.1M806.2,1351.6L819.5,1373.1M806.2,1351.6L877.2,1283.2M819.5,1373.1L903.8,1326.3M877.2,1283.2L791.5,1221.9M877.2,1283.2L961.3,1237.7M903.8,1326.3L831.1,1285.2M903.8,1326.3L974.4,1258.6M961.3,1237.7L974.4,1258.6M961.3,1237.7L959.9,1128.2M974.4,1258.6L972.4,1149.3M959.9,1128.2L972.4,1149.3M959.9,1128.2L874.2,1066.1M972.4,1149.3L900.2,1108.6M874.2,1066.1L791.0,1112.2M900.2,1108.6L829.6,1175.9M791.0,1112.2L791.5,1221.9M829.6,1175.9L831.1,1285.2" stroke="#000" stroke-width="3.1" fill="none" stroke-linejoin="round" stroke-linecap="round"/>
<polygon points="766.1,1095.2 772.9,1098.8 774.9,1102.4 775.7,1108.1 768.5,1107.7 767.3,1100.8" fill="#ff0016"/>
<polygon points="732.4,1162.0 736.4,1162.8 738.8,1170.0 733.2,1167.6" fill="#ff0016"/>
<polygon points="757.7,1181.2 759.3,1178.4 762.1,1178.8 762.5,1182.4 759.3,1183.2" fill="#ff0016"/>
<polygon points="733.2,1206.9 733.6,1201.7 738.8,1198.9 737.2,1205.3" fill="#ff0016"/>
<polygon points="750.9,1208.5 753.3,1203.7 758.5,1204.9 758.9,1209.7" fill="#ff0016"/>
<polygon points="773.3,1221.7 776.5,1217.3 781.3,1217.7 780.5,1221.7" fill="#ff0016"/>
<polygon points="750.9,1227.3 758.9,1222.1 758.5,1226.9 754.5,1228.9" fill="#ff0016"/>
<polygon points="871.6,1091.0 868.6,1102.4 862.3,1104.8 863.8,1096.1" fill="#ff0016"/>
<polygon points="884.0,1098.8 880.7,1107.8 874.7,1112.4 877.4,1106.0" fill="#ff0016"/>
<polygon points="893.3,1105.1 890.9,1113.3 885.2,1117.2 887.0,1109.4" fill="#ff0016"/>
<polygon points="867.4,1165.4 868.1,1161.2 873.4,1157.0 876.6,1158.4 873.0,1162.6" fill="#ff0016"/>
<polygon points="852.0,1178.4 853.4,1175.2 860.8,1175.2 856.2,1178.4 853.4,1179.8" fill="#ff0016"/>
<polygon points="894.1,1196.3 895.1,1188.9 899.7,1188.2 899.3,1193.8" fill="#ff0016"/>
<polygon points="868.1,1194.2 876.9,1197.3 874.1,1202.2 868.5,1200.1" fill="#ff0016"/>
<polygon points="869.9,1218.7 870.2,1213.8 873.8,1213.8 874.8,1215.9 873.8,1218.7" fill="#ff0016"/>
<polygon points="894.1,1225.0 899.3,1227.8 900.0,1233.5 896.2,1232.4" fill="#ff0016"/>
<polygon points="739.9,1289.2 744.1,1277.7 749.5,1274.7 756.5,1266.9 755.0,1274.1 748.0,1279.8" fill="#ff0016"/>
<polygon points="768.2,1299.7 770.6,1285.9 778.1,1285.3 776.9,1293.7" fill="#ff0016"/>
<polygon points="864.3,1282.3 870.5,1284.5 874.8,1295.8 867.0,1291.6 865.5,1288.1" fill="#ff0016"/>
<polygon points="876.5,1270.5 882.3,1273.3 886.6,1283.8 880.0,1279.0 878.5,1276.5" fill="#ff0016"/>
<polygon points="887.1,1276.0 892.6,1278.5 897.1,1289.3 890.1,1285.0 888.1,1281.0" fill="#ff0016"/>
<text x="0.5" y="1033.7" font-family="Liberation Sans" font-size="41" font-weight="bold" text-anchor="start">c</text>
<text x="642.5" y="1034.6" font-family="Liberation Sans" font-size="41" font-weight="bold" text-anchor="start">d</text>
</svg></body></html>
